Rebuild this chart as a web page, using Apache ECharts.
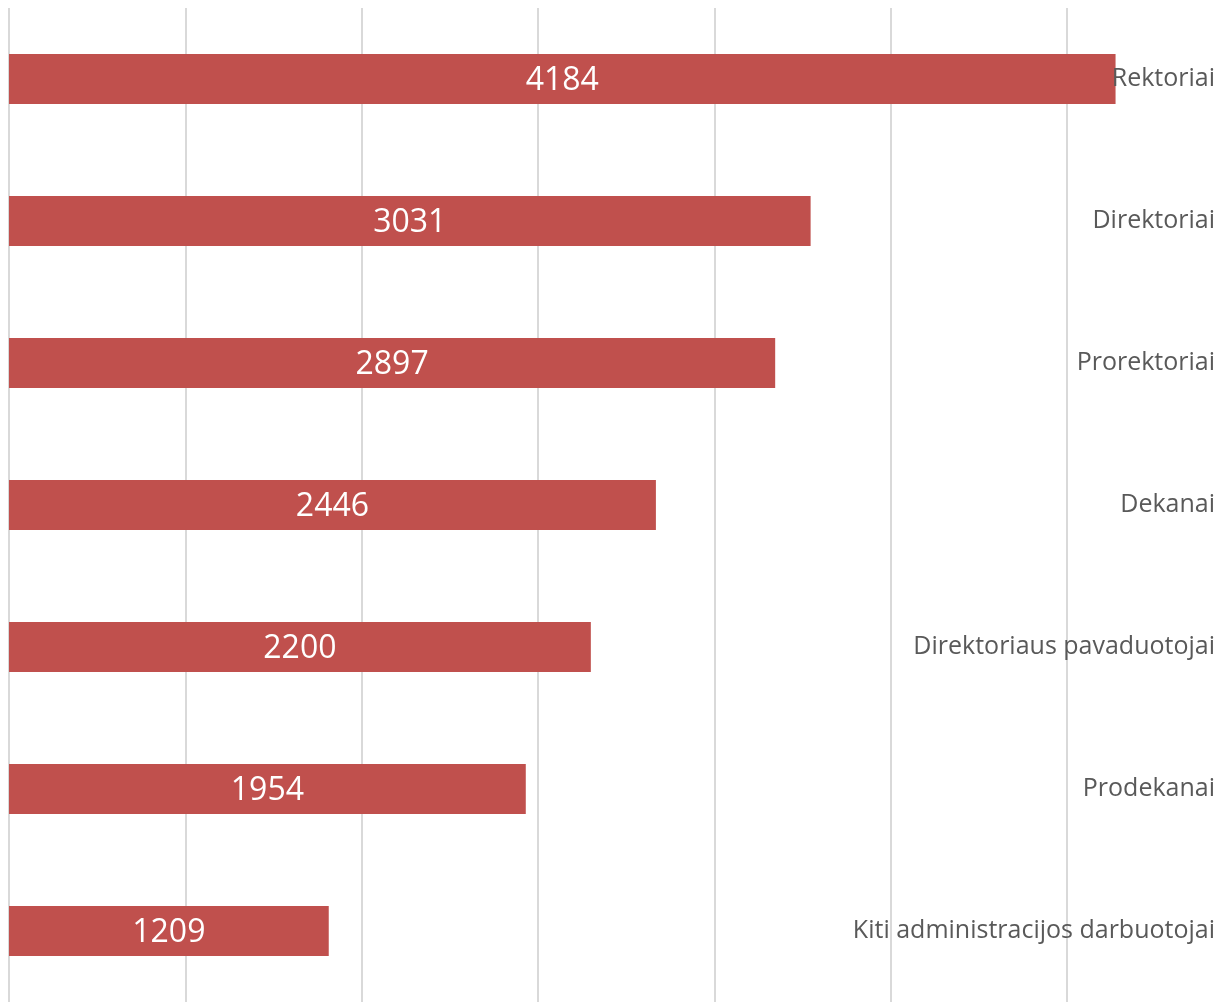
<!DOCTYPE html>
<html>
<head>
<meta charset="utf-8">
<script src="https://cdn.jsdelivr.net/npm/echarts@6/dist/echarts.min.js"></script>
<style>
  html, body { margin: 0; padding: 0; background: #fff; overflow: hidden; }
  #main { width: 1218px; height: 1002px; }
</style>
</head>
<body>
<div id="main"></div>
<script>
// kategorijos (iš viršaus į apačią)
const categories = [
  'Rektoriai',
  'Direktoriai',
  'Prorektoriai',
  'Dekanai',
  'Direktoriaus pavaduotojai',
  'Prodekanai',
  'Kiti administracijos darbuotojai'
];
const values = [4184, 3031, 2897, 2446, 2200, 1954, 1209];

const chart = echarts.init(document.getElementById('main'));

const option = {
  animation: false,
  grid: { left: 9, right: 0, top: 8, bottom: -6, containLabel: false },
  xAxis: {
    type: 'value',
    min: 0,
    max: 4560,
    interval: 4000 / 6,
    axisLine: { show: false },
    axisTick: { show: false },
    axisLabel: { show: false },
    splitLine: { showMaxLine: false, lineStyle: { color: '#d9d9d9', width: 2 } }
  },
  yAxis: {
    type: 'category',
    inverse: true,
    data: categories,
    position: 'right',
    z: 5,
    axisLine: { show: false },
    axisTick: { show: false },
    axisLabel: {
      inside: true,
      margin: 0,
      color: '#595959',
      fontSize: 25,
      fontFamily: 'Open Sans'
    }
  },
  series: [
    {
      type: 'bar',
      data: values,
      barWidth: 50,
      itemStyle: { color: '#c0504d' },
      label: {
        show: true,
        position: 'inside',
        offset: [0, 2],
        color: '#fff',
        fontSize: 32,
        fontFamily: 'Open Sans'
      }
    }
  ]
};

chart.setOption(option);
</script>
</body>
</html>
